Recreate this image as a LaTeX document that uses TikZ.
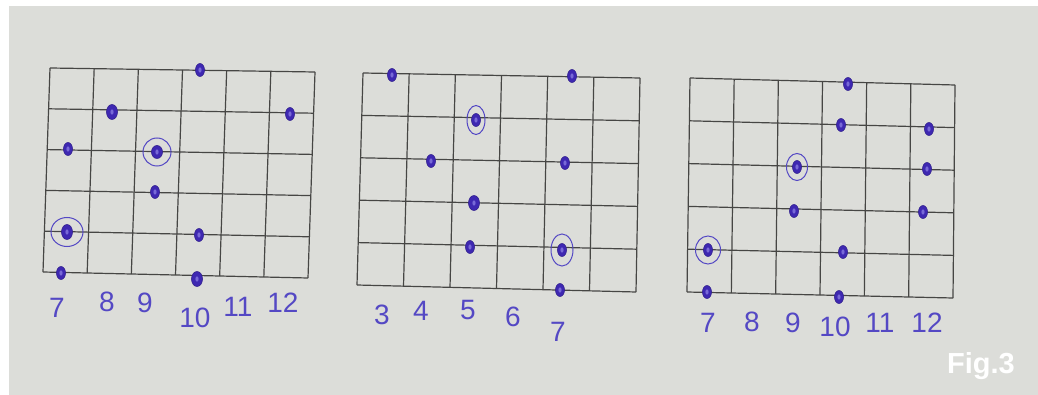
\documentclass[tikz,border=0pt]{standalone}
\usepackage{fontspec}
\setmainfont{Liberation Sans}
\usetikzlibrary{calc,shapes.geometric}
\definecolor{paper}{RGB}{220,221,217}
\definecolor{gridcol}{RGB}{70,70,68}
\definecolor{dotblue}{RGB}{62,40,178}
\definecolor{dotin}{RGB}{120,105,215}
\definecolor{penblue}{RGB}{84,72,196}
\tikzset{
  gridline/.style={draw=gridcol,line width=1.2pt},
  fdot/.style={ellipse,inner sep=0pt,minimum width=9pt,minimum height=13pt,fill=dotblue,draw=dotblue!80!black,line width=0.6pt,
    path picture={\fill[dotin] (path picture bounding box.center) ellipse (1.6pt and 2.6pt);}},
  ring/.style={ellipse,inner sep=0pt,draw=penblue,line width=1pt},
  lab/.style={text=penblue,font=\fontsize{28}{28}\selectfont,inner sep=0pt},
  figlab/.style={text=white,font=\fontsize{29}{29}\selectfont\bfseries,inner sep=0pt}
}
\newcommand{\fretgrid}[4]{%
  \foreach \i in {0,...,6}{\draw[gridline] ($(#1)!\i/6!(#2)$) -- ($(#3)!\i/6!(#4)$);}
  \foreach \j in {0,...,5}{\draw[gridline] ($(#1)!\j/5!(#3)$) -- ($(#2)!\j/5!(#4)$);}
}
\begin{document}
\begin{tikzpicture}[x=1pt,y=-1pt]
\useasboundingbox (0,0) rectangle (1038,395);
\fill[white] (0,0) rectangle (1038,395);
\fill[paper] (9,6) rectangle (1038,395);

% ---------- grid 1 ----------
\coordinate (aTL) at (50,68);
\coordinate (aTR) at (315,72);
\coordinate (aBL) at (43,272);
\coordinate (aBR) at (308,278);
\fretgrid{aTL}{aTR}{aBL}{aBR}
\node[ring,minimum width=28pt,minimum height=28pt] (ar1) at (157,152) {};
\node[ring,minimum width=32pt,minimum height=29pt] (ar2) at (67,232) {};
\node[fdot] (a1) at (200,70) {};
\node[fdot,minimum width=11pt,minimum height=15pt] (a2) at (112,112) {};
\node[fdot] (a3) at (290,114) {};
\node[fdot] (a4) at (68,149) {};
\node[fdot,minimum width=11pt,minimum height=13pt] (a5) at (157,152) {};
\node[fdot] (a6) at (155,192) {};
\node[fdot,minimum width=11pt,minimum height=15pt] (a7) at (67,232) {};
\node[fdot] (a8) at (199,235) {};
\node[fdot] (a9) at (61,273) {};
\node[fdot,minimum width=11pt,minimum height=15pt] (a10) at (197,279) {};
\node[lab] (al7) at (57,308) {7};
\node[lab] (al8) at (107,302) {8};
\node[lab] (al9) at (145,303) {9};
\node[lab] (al10) at (195,318) {10};
\node[lab] (al11) at (238,307) {11};
\node[lab] (al12) at (283,303) {12};

% ---------- grid 2 ----------
\coordinate (bTL) at (363,73);
\coordinate (bTR) at (640,78);
\coordinate (bBL) at (357,285);
\coordinate (bBR) at (636,292);
\fretgrid{bTL}{bTR}{bBL}{bBR}
\node[ring,minimum width=18pt,minimum height=29pt] (br1) at (476,120) {};
\node[ring,minimum width=22pt,minimum height=32pt] (br2) at (562,250) {};
\node[fdot] (b1) at (392,75) {};
\node[fdot] (b2) at (572,76) {};
\node[fdot] (b3) at (476,120) {};
\node[fdot] (b4) at (431,161) {};
\node[fdot] (b5) at (565,163) {};
\node[fdot,minimum width=11pt,minimum height=15pt] (b6) at (474,203) {};
\node[fdot] (b7) at (470,247) {};
\node[fdot] (b8) at (562,250) {};
\node[fdot] (b9) at (560,290) {};
\node[lab] (bl3) at (382,315) {3};
\node[lab] (bl4) at (421,311) {4};
\node[lab] (bl5) at (468,310) {5};
\node[lab] (bl6) at (513,317) {6};
\node[lab] (bl7) at (558,332) {7};

% ---------- grid 3 ----------
\coordinate (cTL) at (690,78);
\coordinate (cTR) at (955,85);
\coordinate (cBL) at (687,292);
\coordinate (cBR) at (953,298);
\fretgrid{cTL}{cTR}{cBL}{cBR}
\node[ring,minimum width=21pt,minimum height=27pt] (cr1) at (797,167) {};
\node[ring,minimum width=25pt,minimum height=28pt] (cr2) at (708,250) {};
\node[fdot] (c1) at (848,84) {};
\node[fdot] (c2) at (841,125) {};
\node[fdot] (c3) at (929,129) {};
\node[fdot] (c4) at (797,167) {};
\node[fdot] (c5) at (927,169) {};
\node[fdot] (c6) at (794,211) {};
\node[fdot] (c7) at (923,212) {};
\node[fdot] (c8) at (708,250) {};
\node[fdot] (c9) at (843,252) {};
\node[fdot] (c10) at (707,292) {};
\node[fdot] (c11) at (839,297) {};
\node[lab] (cl7) at (708,323) {7};
\node[lab] (cl8) at (752,322) {8};
\node[lab] (cl9) at (793,323) {9};
\node[lab] (cl10) at (835,327) {10};
\node[lab] (cl11) at (880,323) {11};
\node[lab] (cl12) at (927,323) {12};

\node[figlab] (fig) at (981,366) {Fig.3};
\end{tikzpicture}
\end{document}
